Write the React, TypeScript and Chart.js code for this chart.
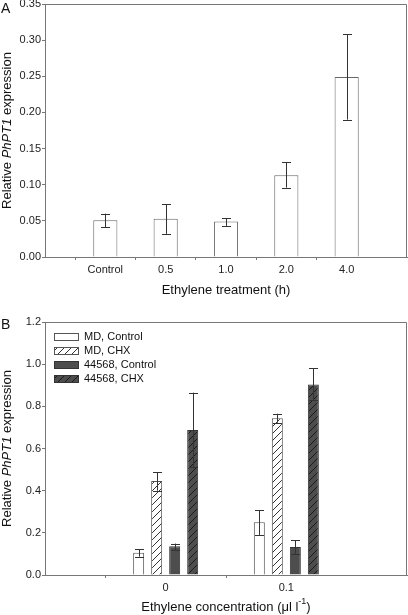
import React, { useEffect, useRef } from 'react';
import { Chart, registerables } from 'chart.js';

Chart.register(...registerables);

const FONT = '"Liberation Sans", Arial, Helvetica, sans-serif';

// ---- Panel A data ----
const treatmentLabels = ['Control', '0.5', '1.0', '2.0', '4.0'];
const treatmentMeans = [0.051, 0.053, 0.049, 0.113, 0.249];
const treatmentLow = [0.041, 0.032, 0.043, 0.096, 0.19];
const treatmentHigh = [0.06, 0.073, 0.054, 0.131, 0.308];
const yTicksA = [0, 0.05, 0.1, 0.15, 0.2, 0.25, 0.3, 0.35];

// ---- Panel B data ----
const concLabels = ['0', '0.1'];
const seriesNames = ['MD, Control', 'MD, CHX', '44568, Control', '44568, CHX'];
const mdControl = [0.106, 0.25];
const mdControlLow = [0.087, 0.19];
const mdControlHigh = [0.122, 0.308];
const mdChx = [0.446, 0.743];
const mdChxLow = [0.4, 0.722];
const mdChxHigh = [0.487, 0.765];
const k44568Control = [0.136, 0.133];
const k44568ControlLow = [0.117, 0.1];
const k44568ControlHigh = [0.149, 0.166];
const k44568Chx = [0.688, 0.904];
const k44568ChxLow = [0.511, 0.83];
const k44568ChxHigh = [0.865, 0.98];
const yTicksB = [0, 0.2, 0.4, 0.6, 0.8, 1.0, 1.2];

const pad = (arr: any[], fill: any) => [fill, ...arr, fill];

function hatch(bg: string, line: string) {
  const c = document.createElement('canvas');
  c.width = 7;
  c.height = 7;
  const g = c.getContext('2d')!;
  g.fillStyle = bg;
  g.fillRect(0, 0, 7, 7);
  g.strokeStyle = line;
  g.lineWidth = 1;
  g.beginPath();
  g.moveTo(0, 7);
  g.lineTo(7, 0);
  g.moveTo(-1, 1);
  g.lineTo(1, -1);
  g.moveTo(6, 8);
  g.lineTo(8, 6);
  g.stroke();
  return g.createPattern(c, 'repeat');
}

const errorBarPlugin = {
  id: 'errorBars',
  afterDatasetsDraw(chart: any) {
    const ctx = chart.ctx;
    const yScale = chart.scales.y;
    ctx.save();
    ctx.strokeStyle = '#333';
    ctx.lineWidth = 1;
    chart.data.datasets.forEach((ds: any, i: number) => {
      const meta = chart.getDatasetMeta(i);
      meta.data.forEach((bar: any, j: number) => {
        const lo = ds.errLow?.[j];
        const hi = ds.errHigh?.[j];
        if (lo == null || hi == null || ds.data[j] == null) return;
        const x = Math.round(bar.x) + 0.5;
        const y1 = yScale.getPixelForValue(lo);
        const y2 = yScale.getPixelForValue(hi);
        const cap = 4.5;
        ctx.beginPath();
        ctx.moveTo(x, y1);
        ctx.lineTo(x, y2);
        ctx.moveTo(x - cap, Math.round(y1) + 0.5);
        ctx.lineTo(x + cap, Math.round(y1) + 0.5);
        ctx.moveTo(x - cap, Math.round(y2) + 0.5);
        ctx.lineTo(x + cap, Math.round(y2) + 0.5);
        ctx.stroke();
      });
    });
    ctx.restore();
  },
};

const framePlugin = {
  id: 'frame',
  afterDraw(chart: any) {
    const { ctx, chartArea: a } = chart;
    ctx.save();
    ctx.strokeStyle = '#777';
    ctx.lineWidth = 1;
    ctx.beginPath();
    ctx.moveTo(Math.round(a.left) + 0.5, Math.round(a.top) + 0.5);
    ctx.lineTo(Math.round(a.right) - 0.5, Math.round(a.top) + 0.5);
    ctx.lineTo(Math.round(a.right) - 0.5, Math.round(a.bottom));
    ctx.stroke();
    ctx.restore();
  },
};

function drawYTitle(chart: any, x: number) {
  const { ctx, chartArea: a } = chart;
  const parts = [
    { t: 'Relative ', f: `13px ${FONT}` },
    { t: 'PhPT1', f: `italic 13px ${FONT}` },
    { t: ' expression', f: `13px ${FONT}` },
  ];
  ctx.save();
  ctx.fillStyle = '#111';
  ctx.textBaseline = 'middle';
  ctx.textAlign = 'left';
  let total = 0;
  parts.forEach((p) => {
    ctx.font = p.f;
    total += ctx.measureText(p.t).width;
  });
  ctx.translate(x, (a.top + a.bottom) / 2);
  ctx.rotate(-Math.PI / 2);
  let cx = -total / 2;
  parts.forEach((p) => {
    ctx.font = p.f;
    ctx.fillText(p.t, cx, 0);
    cx += ctx.measureText(p.t).width;
  });
  ctx.restore();
}

function textPlugin(letter: string, letterY: number, xTitleY: number, kind: 'A' | 'B') {
  return {
    id: 'texts' + kind,
    afterDraw(chart: any) {
      const { ctx, chartArea: a } = chart;
      ctx.save();
      ctx.fillStyle = '#111';
      ctx.font = `14px ${FONT}`;
      ctx.textBaseline = 'alphabetic';
      ctx.textAlign = 'left';
      ctx.fillText(letter, 1, letterY);
      drawYTitle(chart, 7);
      const cxm = (a.left + a.right) / 2;
      ctx.textBaseline = 'middle';
      if (kind === 'A') {
        ctx.font = `13px ${FONT}`;
        ctx.textAlign = 'center';
        ctx.fillText('Ethylene treatment (h)', cxm, xTitleY);
      } else {
        const p1 = 'Ethylene concentration (\u03bcl l';
        const sup = '-1';
        const p3 = ')';
        ctx.font = `13px ${FONT}`;
        const w1 = ctx.measureText(p1).width;
        const w3 = ctx.measureText(p3).width;
        ctx.font = `9px ${FONT}`;
        const w2 = ctx.measureText(sup).width;
        let x = cxm - (w1 + w2 + w3) / 2;
        ctx.textAlign = 'left';
        ctx.font = `13px ${FONT}`;
        ctx.fillText(p1, x, xTitleY);
        x += w1;
        ctx.font = `9px ${FONT}`;
        ctx.fillText(sup, x, xTitleY - 5);
        x += w2;
        ctx.font = `13px ${FONT}`;
        ctx.fillText(p3, x, xTitleY);
      }
      ctx.restore();
    },
  };
}

const legendPlugin = {
  id: 'insideLegend',
  afterDraw(chart: any) {
    const ctx = chart.ctx;
    ctx.save();
    ctx.font = `11px ${FONT}`;
    ctx.textBaseline = 'middle';
    ctx.textAlign = 'left';
    chart.data.datasets.forEach((ds: any, i: number) => {
      const y = 37 + i * 14;
      ctx.fillStyle = ds.backgroundColor;
      ctx.fillRect(54, y - 4, 25, 8);
      ctx.strokeStyle = ds.borderColor;
      ctx.lineWidth = 1;
      ctx.strokeRect(54.5, y - 3.5, 24, 7);
      ctx.fillStyle = '#111';
      ctx.fillText(ds.label, 84, y);
    });
    ctx.restore();
  },
};

function xScale(height: number, count: number) {
  return {
    type: 'category',
    offset: false,
    grid: {
      drawOnChartArea: false,
      drawTicks: true,
      tickLength: 3,
      color: (c: any) => (c.index === 0 || c.index === count - 1 ? 'rgba(0,0,0,0)' : '#777'),
    },
    border: { color: '#777', width: 1 },
    ticks: { color: '#222', font: { size: 11, family: FONT }, padding: 3, autoSkip: false, maxRotation: 0 },
    afterFit: (s: any) => {
      s.height = height;
      s.paddingLeft = 0;
      s.paddingRight = 0;
    },
  };
}

function yScale(max: number, ticks: number[], digits: number) {
  return {
    min: 0,
    max,
    grid: { drawOnChartArea: false, drawTicks: true, tickLength: 3, color: '#777' },
    border: { color: '#777', width: 1 },
    ticks: {
      color: '#222',
      font: { size: 11, family: FONT },
      padding: 1,
      callback: (v: any) => Number(v).toFixed(digits),
    },
    afterBuildTicks: (s: any) => {
      s.ticks = ticks.map((v) => ({ value: v }));
    },
    afterFit: (s: any) => {
      s.width = 45;
      s.paddingTop = 0;
      s.paddingBottom = 0;
    },
  };
}

export default function App() {
  const refA = useRef<HTMLCanvasElement>(null);
  const refB = useRef<HTMLCanvasElement>(null);

  useEffect(() => {
    const labelsA = pad(treatmentLabels, '');
    const chartA = new Chart(refA.current!, {
      type: 'bar',
      data: {
        labels: labelsA,
        datasets: [
          {
            label: 'A',
            data: pad(treatmentMeans, null),
            errLow: pad(treatmentLow, null),
            errHigh: pad(treatmentHigh, null),
            backgroundColor: '#ffffff',
            borderColor: '#666',
            borderWidth: 1,
            categoryPercentage: 1,
            barPercentage: 0.4,
          } as any,
        ],
      },
      options: {
        responsive: false,
        animation: false,
        layout: { padding: { top: 4, right: 1, left: 0, bottom: 0 } },
        plugins: { legend: { display: false }, tooltip: { enabled: false } },
        scales: {
          x: xScale(43, labelsA.length) as any,
          y: yScale(0.35, yTicksA, 2) as any,
        },
      },
      plugins: [errorBarPlugin, framePlugin, textPlugin('A', 13, 290, 'A')],
    });

    const labelsB = pad(concLabels, '');
    const whiteHatch = hatch('#ffffff', '#333');
    const darkHatch = hatch('#4d4d4d', '#1a1a1a');
    const seriesB = [
      { v: mdControl, lo: mdControlLow, hi: mdControlHigh, bg: '#ffffff', bd: '#555' },
      { v: mdChx, lo: mdChxLow, hi: mdChxHigh, bg: whiteHatch, bd: '#555' },
      { v: k44568Control, lo: k44568ControlLow, hi: k44568ControlHigh, bg: '#4d4d4d', bd: '#333' },
      { v: k44568Chx, lo: k44568ChxLow, hi: k44568ChxHigh, bg: darkHatch, bd: '#333' },
    ];
    const chartB = new Chart(refB.current!, {
      type: 'bar',
      data: {
        labels: labelsB,
        datasets: seriesB.map((s, i) => ({
          label: seriesNames[i],
          data: pad(s.v, null),
          errLow: pad(s.lo, null),
          errHigh: pad(s.hi, null),
          backgroundColor: s.bg,
          borderColor: s.bd,
          borderWidth: 1,
          categoryPercentage: 0.597,
          barPercentage: 0.61,
        })) as any,
      },
      options: {
        responsive: false,
        animation: false,
        layout: { padding: { top: 22, right: 1, left: 0, bottom: 0 } },
        plugins: { legend: { display: false }, tooltip: { enabled: false } },
        scales: {
          x: xScale(40, labelsB.length) as any,
          y: yScale(1.2, yTicksB, 1) as any,
        },
      },
      plugins: [errorBarPlugin, framePlugin, legendPlugin, textPlugin('B', 29, 307, 'B')],
    });

    return () => {
      chartA.destroy();
      chartB.destroy();
    };
  }, []);

  return (
    <div style={{ position: 'absolute', left: 0, top: 0, width: 408, height: 615, background: '#fff' }}>
      <canvas ref={refA} width={408} height={300} style={{ display: 'block' }} />
      <canvas ref={refB} width={408} height={315} style={{ display: 'block' }} />
    </div>
  );
}
